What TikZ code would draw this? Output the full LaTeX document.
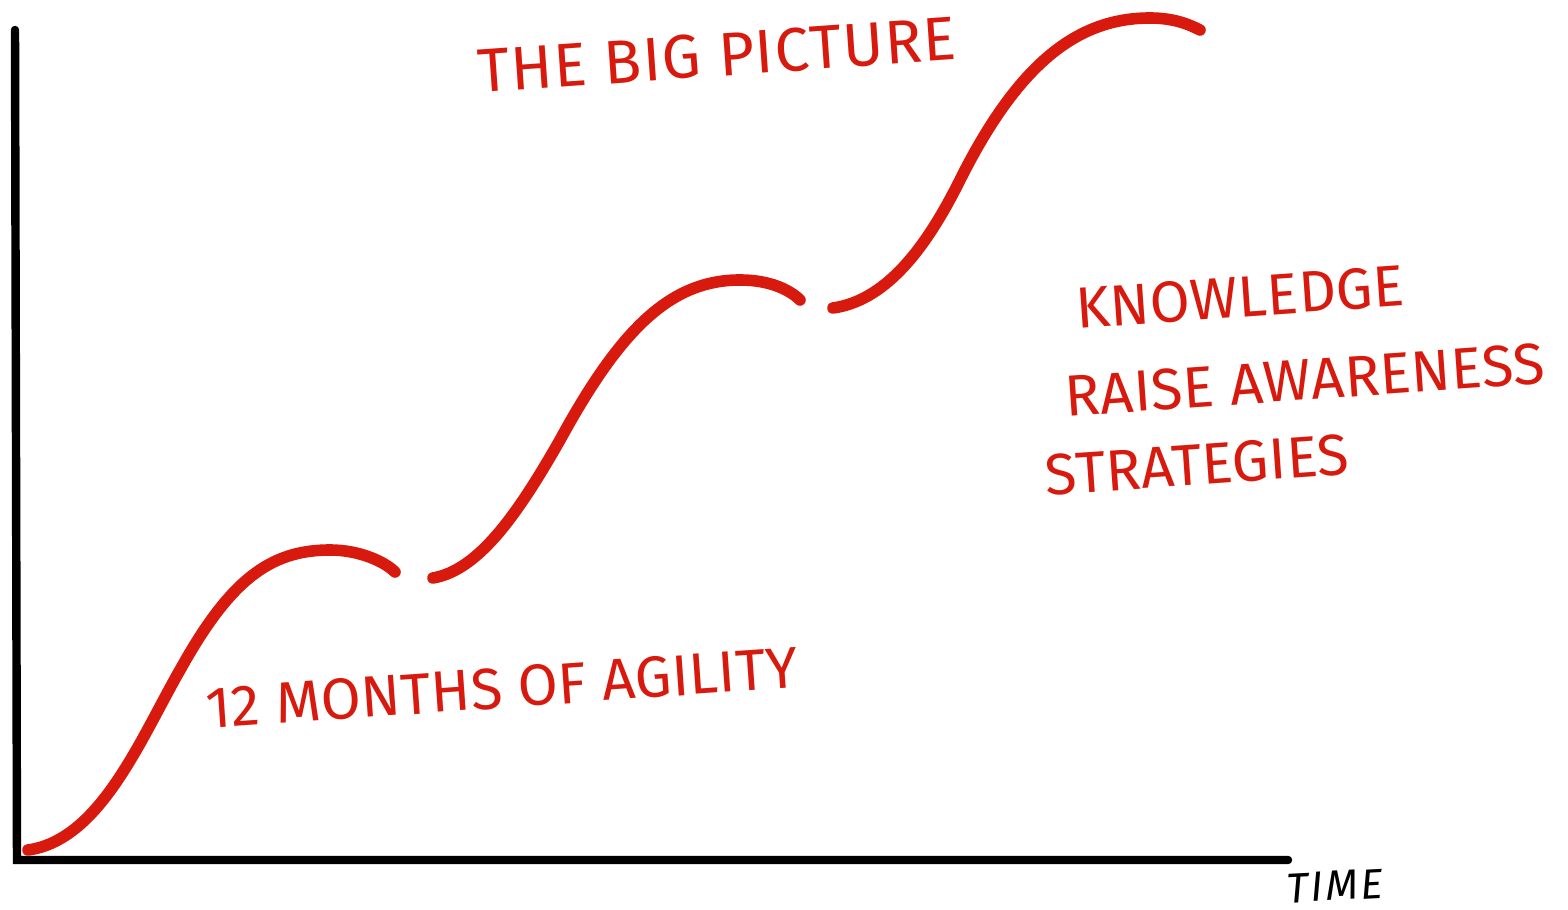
\documentclass[tikz,border=0pt]{standalone}
\usepackage{fontspec}
\setmainfont{Fira Sans}
\definecolor{pen}{HTML}{D8190E}
\tikzset{
  axis/.style={line width=2.4pt, black, line cap=round},
  wave/.style={line width=3.3pt, pen, line cap=round},
  redtext/.style={text=pen, font=\fontsize{17.5}{21}\selectfont\addfontfeature{LetterSpace=2}, inner sep=0pt},
  smallred/.style={text=pen, font=\fontsize{16.5}{20}\selectfont\addfontfeature{LetterSpace=0.5}, inner sep=0pt},
  timetext/.style={text=black, font=\fontsize{12}{14}\selectfont\itshape\addfontfeature{LetterSpace=6}, inner sep=0pt}
}
\begin{document}
\begin{tikzpicture}[x=0.01cm,y=-0.01cm]
\useasboundingbox (0,0) rectangle (1568,910);
\coordinate (ytop) at (15,30);
\coordinate (origin) at (17,860);
\coordinate (xend) at (1288,860);
\draw[axis] (ytop) -- (origin) -- (xend);
% curve 1
\coordinate (a0) at (28,850);
\coordinate (a1) at (180,670);
\coordinate (a2) at (330,550);
\coordinate (a3) at (395,572);
\draw[wave] (a0) .. controls (100,840) and (140,740) .. (a1)
  .. controls (230,580) and (270,550) .. (a2)
  .. controls (360,550) and (385,562) .. (a3);
% curve 2
\coordinate (b0) at (433,578);
\coordinate (b1) at (560,440);
\coordinate (b2) at (740,280);
\coordinate (b3) at (800,300);
\draw[wave] (b0) .. controls (480,570) and (520,510) .. (b1)
  .. controls (620,330) and (670,280) .. (b2)
  .. controls (770,280) and (790,290) .. (b3);
% curve 3
\coordinate (c0) at (833,308);
\coordinate (c1) at (960,180);
\coordinate (c2) at (1150,18);
\coordinate (c3) at (1200,30);
\draw[wave] (c0) .. controls (890,300) and (930,240) .. (c1)
  .. controls (1020,60) and (1080,18) .. (c2)
  .. controls (1175,18) and (1190,25) .. (c3);
% texts
\node[redtext, rotate=4] (title) at (717,55) {THE BIG PICTURE};
\node[smallred, rotate=4] (agility) at (502,688) {12 MONTHS OF AGILITY};
\node[smallred, rotate=4] (knowledge) at (1240,297) {KNOWLEDGE};
\node[smallred, rotate=4] (raise) at (1305,380) {RAISE AWARENESS};
\node[smallred, rotate=4] (strat) at (1197,465) {STRATEGIES};
\node[timetext, rotate=3] (time) at (1335,886) {TIME};
\end{tikzpicture}
\end{document}
